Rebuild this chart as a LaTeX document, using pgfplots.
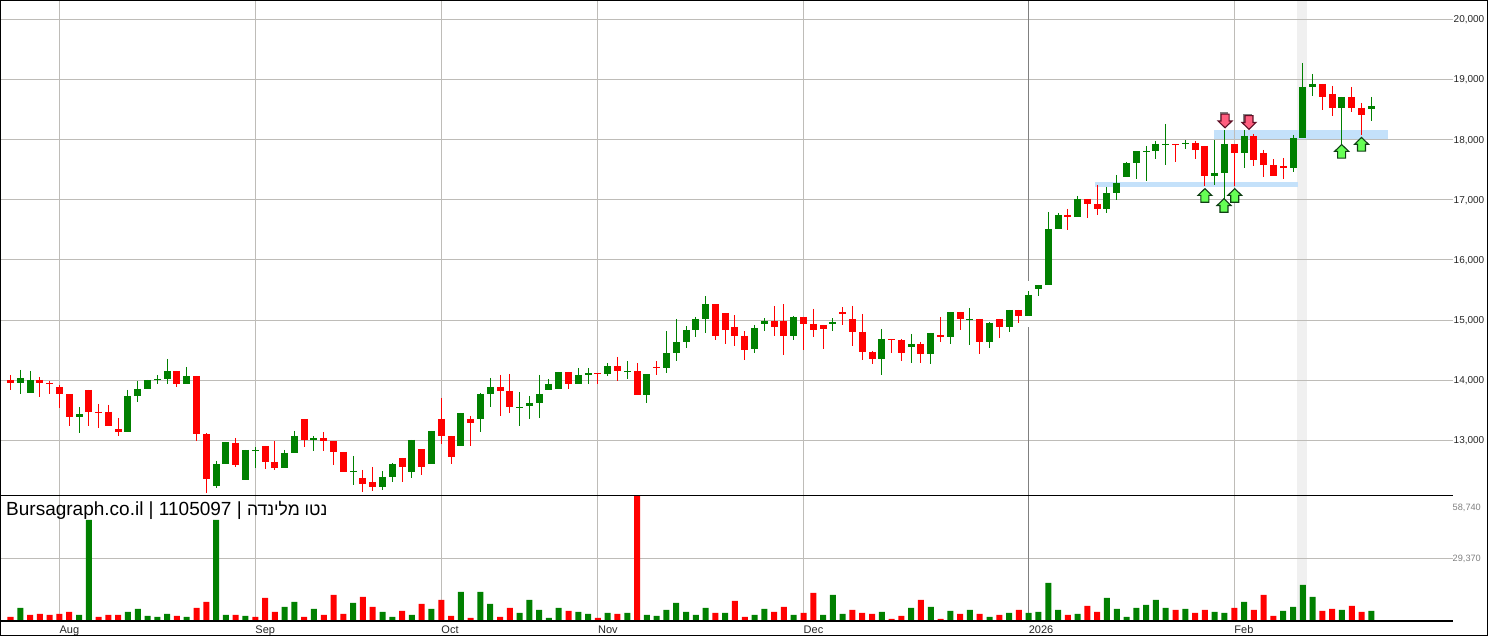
\documentclass[border=0pt]{standalone}
\usepackage{fontspec}
\usepackage{pgfplots}
\usepackage{pgfplotstable}
\pgfplotsset{compat=1.18}
\setmainfont{Liberation Sans}
\newfontfamily\hebfont[Script=Hebrew]{Liberation Sans}
\TeXXeTstate=1

\definecolor{candlegreen}{HTML}{008000}
\definecolor{candlered}{HTML}{FF0000}
\definecolor{gridgrey}{HTML}{BEBCB8}
\definecolor{yeargrey}{HTML}{808080}
\definecolor{zoneblue}{HTML}{C4E1FA}
\definecolor{bandgrey}{HTML}{F0F0F0}
\definecolor{upfill}{HTML}{66FF55}
\definecolor{upline}{HTML}{0F3F14}
\definecolor{downfill}{HTML}{FF5F7F}
\definecolor{downline}{HTML}{5F0F25}

% index top bottom high low (prices read off the chart)
\pgfplotstableread{
i top bot hi lo
1 14036 13953 14169 13770
2 14003 13787 14153 13787
7 13437 13388 13554 13121
12 13737 13138 13837 13138
13 13853 13737 13986 13637
14 14003 13853 14003 13853
15 14019 14003 14086 13936
16 14153 14019 14352 13936
18 14069 13936 14219 13936
21 12606 12240 12656 12207
22 12972 12606 12972 12606
24 12839 12340 12839 12340
25 12839 12822 12889 12539
28 12789 12539 12839 12539
29 13072 12789 13155 12789
31 13038 13005 13072 12822
35 12490 12473 12739 12257
38 12390 12224 12490 12174
39 12606 12390 12623 12307
41 13005 12473 13005 12373
43 13155 12606 13155 12606
46 13454 12905 13454 12905
48 13770 13354 13787 13138
49 13886 13770 14036 13554
52 13554 13537 13803 13238
53 13620 13570 13737 13354
54 13770 13620 14086 13371
55 13936 13837 14019 13837
56 14136 13853 14136 13853
58 14086 13936 14202 13936
59 14119 14086 14202 13936
61 14235 14102 14285 14069
63 14152 14135 14318 14019
65 14102 13753 14102 13620
67 14451 14202 14817 14119
68 14634 14451 15017 14318
69 14834 14634 14900 14535
70 15017 14834 15050 14717
71 15266 15017 15399 14784
76 14867 14518 14917 14451
77 14984 14934 15033 14817
80 15050 14734 15067 14668
84 14967 14934 15033 14817
89 14685 14352 14851 14086
92 14601 14552 14768 14285
94 14784 14435 14784 14269
96 15134 14718 15134 14601
98 15017 15001 15200 14585
100 14951 14635 14967 14535
102 15167 14884 15167 14801
104 15416 15067 15483 15067
105 15583 15516 15583 15400
106 16514 15583 16796 15583
107 16747 16514 16780 16514
109 17012 16713 17062 16713
112 17112 16846 17212 16779
113 17278 17112 17411 16996
114 17611 17378 17628 17378
115 17810 17611 17810 17345
116 17810 17794 17894 17312
117 17927 17810 17977 17677
118 17927 17910 18259 17578
120 17943 17927 17993 17844
123 17445 17395 17993 17245
124 17927 17445 18160 17012
126 18060 17777 18160 17528
131 18027 17528 18077 17461
132 18875 18027 19274 18027
133 18925 18875 19091 18725
136 18708 18526 18708 17927
139 18559 18509 18708 18309
}\greencandles

\pgfplotstableread{
i top bot hi lo
0 14003 13953 14086 13837
3 14003 13953 14053 13720
4 13953 13936 13986 13770
5 13886 13770 13920 13537
6 13770 13388 13770 13238
8 13837 13471 13837 13238
9 13471 13454 13604 13205
10 13471 13238 13587 13238
11 13188 13138 13371 13072
17 14153 13936 14153 13886
19 14069 13105 14069 12988
20 13105 12357 13121 12124
23 12955 12589 13038 12556
26 12905 12639 12905 12523
27 12639 12539 12988 12506
30 13354 13005 13354 12889
32 13038 12988 13138 12822
33 12988 12806 12988 12589
34 12806 12473 12806 12473
36 12373 12273 12506 12140
37 12307 12224 12556 12157
40 12706 12556 12706 12307
42 12855 12556 12855 12423
44 13354 13072 13704 12939
45 13072 12722 13072 12606
47 13354 13288 13404 12905
50 13886 13820 14086 13404
51 13820 13554 14103 13454
57 14136 13936 14136 13853
60 14119 14102 14119 13936
62 14235 14152 14385 13986
64 14152 13753 14285 13753
66 14219 14202 14318 14086
72 15266 14734 15266 14668
73 15117 14834 15117 14601
74 14884 14734 15083 14568
75 14734 14501 14817 14335
78 14984 14884 15233 14734
79 14984 14734 15266 14418
81 15050 14934 15050 14501
82 14934 14834 15183 14717
83 14917 14850 14917 14518
85 15133 15100 15216 14917
86 15017 14801 15233 14568
87 14801 14468 15100 14335
88 14468 14352 14485 14269
90 14685 14668 14685 14452
91 14668 14452 14685 14319
93 14601 14435 14635 14285
95 14751 14718 15050 14635
97 15134 15017 15134 14834
99 15017 14635 15017 14435
101 15017 14884 15017 14701
103 15167 15067 15167 14951
108 16747 16713 16846 16497
110 17012 16929 17012 16696
111 16929 16846 17245 16746
119 17927 17910 17927 17628
121 17943 17827 17977 17677
122 17894 17395 17894 17228
125 17927 17777 17927 17228
127 18060 17661 18093 17561
128 17777 17578 17827 17378
129 17578 17395 17677 17395
130 17561 17528 17694 17345
134 18925 18708 18925 18492
135 18758 18526 18891 18392
137 18708 18526 18875 18459
138 18526 18409 18609 18077
}\redcandles

\pgfplotstableread{
i vol
1 5700
7 2375
8 47500
12 3800
13 5225
14 1900
15 1425
16 2850
18 1425
21 47500
22 2375
24 1900
28 6175
29 8550
31 5225
35 8075
38 3800
39 1425
41 2375
43 5225
46 13300
48 13300
49 7600
52 3325
53 9500
54 4750
55 950
56 5700
58 3800
59 2850
61 3325
63 3325
65 2375
66 1900
67 4750
68 8075
69 3800
70 2375
71 5700
73 3325
76 2375
77 5225
80 2375
83 2375
84 11875
85 2850
89 3800
92 5700
94 6175
96 4275
98 4750
100 1425
102 3325
104 3325
105 3800
106 17575
107 4750
109 2850
112 10450
113 5225
114 1425
115 5700
116 7125
117 9500
118 5700
120 5225
123 3800
124 3325
126 8550
130 4275
131 6175
132 16625
133 10925
136 4750
139 4275
}\greenvol

\pgfplotstableread{
i vol
0 1425
2 2375
3 2850
4 2375
5 2850
6 3800
9 1425
10 2375
11 2375
17 1900
19 5700
20 8550
23 2375
25 1425
26 10450
27 3800
30 1425
32 2375
33 11875
34 2850
36 10925
37 6175
40 4275
42 7600
44 9500
45 1900
47 950
50 1425
51 5700
57 4275
60 950
62 2850
64 59400
72 3325
74 9025
75 1425
78 3800
79 6175
81 3325
82 12825
86 4750
87 3325
88 2850
90 475
91 1900
93 9500
95 475
97 2850
99 2850
101 2375
103 4750
108 2375
110 6650
111 3800
119 4750
121 3325
122 4750
125 5700
127 4750
128 11875
129 1900
134 4275
135 5225
137 6650
138 3800
}\redvol

\pgfdeclareplotmark{uparrow}{%
  \pgfsetlinewidth{1.1pt}\pgfsetmiterjoin
  \pgfsetstrokecolor{upline}\pgfsetfillcolor{upfill}
  \pgfpathmoveto{\pgfqpoint{0pt}{6.8pt}}
  \pgfpathlineto{\pgfqpoint{7pt}{0pt}}
  \pgfpathlineto{\pgfqpoint{4pt}{0pt}}
  \pgfpathlineto{\pgfqpoint{4pt}{-6.8pt}}
  \pgfpathlineto{\pgfqpoint{-4pt}{-6.8pt}}
  \pgfpathlineto{\pgfqpoint{-4pt}{0pt}}
  \pgfpathlineto{\pgfqpoint{-7pt}{0pt}}
  \pgfpathclose
  \pgfusepathqfillstroke
}
\pgfdeclareplotmark{downarrow}{%
  \pgfsetlinewidth{1.1pt}\pgfsetmiterjoin
  \pgfsetstrokecolor{gray}
  \pgfpathmoveto{\pgfqpoint{-5pt}{-1pt}}
  \pgfpathlineto{\pgfqpoint{-5pt}{8pt}}
  \pgfpathlineto{\pgfqpoint{3pt}{8pt}}
  \pgfusepathqstroke
  \pgfsetstrokecolor{downline}\pgfsetfillcolor{downfill}
  \pgfpathmoveto{\pgfqpoint{0pt}{-6.8pt}}
  \pgfpathlineto{\pgfqpoint{7pt}{0pt}}
  \pgfpathlineto{\pgfqpoint{4pt}{0pt}}
  \pgfpathlineto{\pgfqpoint{4pt}{6.8pt}}
  \pgfpathlineto{\pgfqpoint{-4pt}{6.8pt}}
  \pgfpathlineto{\pgfqpoint{-4pt}{0pt}}
  \pgfpathlineto{\pgfqpoint{-7pt}{0pt}}
  \pgfpathclose
  \pgfusepathqfillstroke
}

\pgfplotsset{
  panel/.style={
    set layers,
    clip mode=individual,
    scale only axis,
    width=1452.5pt,
    xmin=-1.0725, xmax=147.293,
    axis line style={draw=none},
    major tick length=0pt,
    grid=major,
    grid style={gridgrey, line width=1pt},
    yticklabel pos=right,
    scaled y ticks=false,
    /pgf/number format/assume math mode=true,
    /pgf/number format/1000 sep={,},
    /pgf/number format/fixed,
  },
  wick/.style={draw=none, mark=none,
    error bars/.cd, y dir=minus, y explicit, error mark=none,
    error bar style={draw=#1, line width=1pt, solid}},
  body/.style={draw=none, mark=none,
    error bars/.cd, y dir=minus, y explicit, error mark=none,
    error bar style={draw=#1, line width=7pt, solid}},
  volbar/.style={ybar, bar shift=0pt, bar width=6pt, fill=#1, draw=none},
}

\begin{document}
\begin{tikzpicture}

\begin{axis}[panel,
    at={(0pt,140.5pt)}, anchor=south west,
    height=495.5pt,
    ymin=12082, ymax=20321,
    xtick={5,25,44,60,81,125},
    xticklabels={},
    ytick={13000,14000,...,20000},
    yticklabel style={anchor=west, inner sep=0pt, xshift=1pt, yshift=-0.7pt, text=black!85,
      font=\fontsize{10}{12}\selectfont},
  ]
  \addplot[on layer=axis background, fill=bandgrey, draw=none]
    coordinates {(131.4,12082) (132.4,12082) (132.4,20321) (131.4,20321)} -- cycle;
  \addplot[on layer=axis background, fill=zoneblue, draw=none]
    coordinates {(110.8,17212) (131.5,17212) (131.5,17295) (110.8,17295)} -- cycle;
  \addplot[on layer=axis background, fill=zoneblue, draw=none]
    coordinates {(122.9,18005) (140.7,18005) (140.7,18160) (122.9,18160)} -- cycle;

  % the year line stops short around the candle
  \addplot[yeargrey, line width=1pt] coordinates {(104,15654) (104,20321)};
  \addplot[yeargrey, line width=1pt] coordinates {(104,12082) (104,14889)};

  \addplot[wick=candlegreen] table[x=i, y=hi, y error minus expr=\thisrow{hi}-\thisrow{lo}] {\greencandles};
  \addplot[wick=candlered] table[x=i, y=hi, y error minus expr=\thisrow{hi}-\thisrow{lo}] {\redcandles};
  \addplot[body=candlegreen] table[x=i, y=top, y error minus expr=\thisrow{top}-\thisrow{bot}] {\greencandles};
  \addplot[body=candlered] table[x=i, y=top, y error minus expr=\thisrow{top}-\thisrow{bot}] {\redcandles};

  \addplot[only marks, mark=uparrow] coordinates {
    (122.0,17071) (123.95,16904) (125.05,17071) (135.97,17805) (138.0,17922)};
  \addplot[only marks, mark=downarrow] coordinates {(124.06,18309) (126.5,18284)};
\end{axis}

\begin{axis}[panel,
    at={(0pt,15pt)}, anchor=south west,
    height=125.5pt,
    ymin=-475, ymax=59137,
    xtick={5,25,44,60,81,104,125},
    xticklabels={Aug,Sep,Oct,Nov,Dec,2026,Feb},
    xticklabel style={anchor=base west, inner sep=0pt, yshift=-13pt, text=black!85,
      font=\fontsize{11}{13}\selectfont},
    ytick={29370},
    yticklabel style={anchor=west, inner sep=0pt, xshift=0pt, yshift=-0.7pt, text=black!50,
      font=\fontsize{9.2}{11}\selectfont},
  ]
  \addplot[on layer=axis background, fill=bandgrey, draw=none]
    coordinates {(131.4,-475) (132.4,-475) (132.4,59137) (131.4,59137)} -- cycle;
  \addplot[yeargrey, line width=1pt] coordinates {(104,0) (104,59137)};
  \addplot[volbar=candlegreen] table[x=i, y=vol] {\greenvol};
  \addplot[volbar=candlered] table[x=i, y=vol] {\redvol};
  \node[anchor=west, inner sep=0pt, text=black!50, font=\fontsize{9.2}{11}\selectfont]
    at (rel axis cs:1,0.902) {58,740};
\end{axis}

\draw[black, line width=1pt] (0pt,140.5pt) -- (1452.5pt,140.5pt);
\draw[black, line width=2pt] (0pt,15pt) -- (1452.5pt,15pt);
\draw[black, line width=1pt] (0.5pt,0.5pt) rectangle (1487.5pt,635.5pt);
\node[anchor=base west, inner sep=0pt, text=black, font=\fontsize{19}{22}\selectfont]
  at (6pt,120pt) {Bursagraph.co.il | 1105097 | {\hebfont\fontsize{17.5}{22}\selectfont\beginR נטו מלינדה\endR}};
\pgfresetboundingbox
\path[use as bounding box] (0pt,0pt) rectangle (1488pt,636pt);
\end{tikzpicture}
\end{document}
